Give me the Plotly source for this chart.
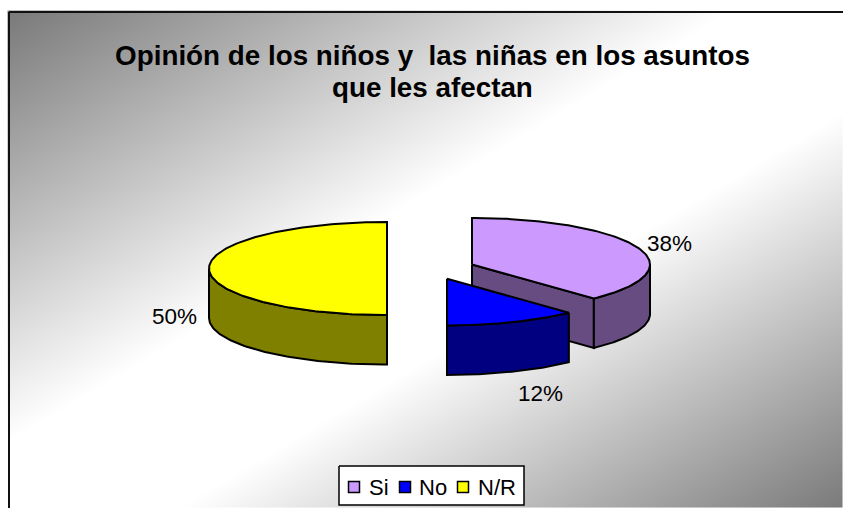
import numpy as np
import plotly.graph_objects as go

categories = ["Si", "No", "N/R"]
shares = [38, 12, 50]
title_lines = ["Opinión de los niños y  las niñas en los asuntos", "que les afectan"]

top_colors = ["#CC99FF", "#0000FF", "#FFFF00"]
wall_colors = ["#664C80", "#000080", "#808000"]
# exploded slice centres in pixel space
centers = [(472, 264.5), (447, 278.8), (387, 268.5)]
RX, RY, DEPTH = 178, 46.6, 49.5
W, H = 843, 508
LEFT, TOP = 9, 12
FONT = "Liberation Sans, Arial, sans-serif"

def rim(c, a0, a1, n=80, dy=0):
    a = np.radians(np.linspace(a0, a1, n))
    return c[0] + RX * np.sin(a), c[1] - RY * np.cos(a) + dy

def poly(xs, ys, color, width=2, **kw):
    return go.Scatter(x=xs, y=ys, mode="lines", fill="toself", fillcolor=color,
                      line=dict(color="black", width=width), hoverinfo="skip",
                      showlegend=False, **kw)

fig = go.Figure()

# background gradient
gx = np.linspace(LEFT, W, 280)
gy = np.linspace(TOP, H, 170)
X, Y = np.meshgrid(gx, gy)
t = (X - LEFT) / (W - LEFT) + (Y - TOP) / (H - TOP)
d = np.where(t < 1.04, (1.04 - t) / 1.04, (t - 1.04) / 0.96)
z = np.minimum(255, 122 + (1 - d) * 160)
fig.add_trace(go.Heatmap(x=gx, y=gy, z=z, zmin=0, zmax=255, zsmooth="best", showscale=False,
                         colorscale=[[0, "rgb(0,0,0)"], [1, "rgb(255,255,255)"]],
                         hoverinfo="skip"))

# slices, angles come from the shares (clockwise from 12 o'clock)
start = 0
for i, share in enumerate(shares):
    end = start + share * 3.6
    c = centers[i]
    # inner radial wall facing the viewer (only for the first slice)
    if i == 0:
        ex, ey = rim(c, end, end, 1)
        fig.add_trace(poly([c[0], ex[0], ex[0], c[0], c[0]],
                           [c[1], ey[0], ey[0] + DEPTH, c[1] + DEPTH, c[1]], wall_colors[i]))
    # outer wall, the part of the rim on the front half
    w0, w1 = max(start, 90), min(end, 270)
    if w1 > w0:
        x1, y1 = rim(c, w0, w1)
        x2, y2 = rim(c, w1, w0, dy=DEPTH)
        fig.add_trace(poly(np.r_[x1, x2, x1[0]], np.r_[y1, y2, y1[0]], wall_colors[i]))
    # top face
    xr, yr = rim(c, start, end, 160)
    fig.add_trace(poly(np.r_[c[0], xr, c[0]], np.r_[c[1], yr, c[1]], top_colors[i]))
    start = end

# legend box, markers and labels
BOX = (339, 524, 466, 505)
fig.add_trace(poly([BOX[0], BOX[1], BOX[1], BOX[0], BOX[0]],
                   [BOX[2], BOX[2], BOX[3], BOX[3], BOX[2]], "white", width=1.5))
marker_x = [354, 405, 463]
text_x = [367, 417, 476]
LEG_Y = 487
for name, col, mx in zip(categories, top_colors, marker_x):
    fig.add_trace(go.Scatter(x=[mx], y=[LEG_Y], mode="markers", name=name, showlegend=False,
                             hoverinfo="skip",
                             marker=dict(symbol="square", size=11, color=col,
                                         line=dict(color="black", width=1.5))))

label_pos = [(669, 243), (540, 393), (174, 316)]
annotations = [dict(x=p[0], y=p[1], xref="x", yref="y", text=f"{s}%", showarrow=False,
                    font=dict(family=FONT, size=22.5, color="black"))
               for p, s in zip(label_pos, shares)]
annotations.append(dict(x=432.5, y=87, xref="x", yref="y", text=f"<b>{title_lines[1]}</b>",
                        showarrow=False, font=dict(family=FONT, size=27.8, color="black")))
annotations += [dict(x=tx, y=LEG_Y, xref="x", yref="y", text=name, showarrow=False, xanchor="left",
                     font=dict(family=FONT, size=22, color="black"))
                for tx, name in zip(text_x, categories)]

shapes = [
    dict(type="line", x0=LEFT, x1=LEFT, y0=TOP, y1=H, line=dict(color="#111111", width=2)),
    dict(type="line", x0=LEFT, x1=W, y0=TOP, y1=TOP, line=dict(color="#111111", width=2)),
]

fig.update_layout(
    width=W, height=H, margin=dict(l=0, r=0, t=0, b=0),
    paper_bgcolor="white", plot_bgcolor="white", showlegend=False,
    xaxis=dict(range=[0, W], visible=False, fixedrange=True),
    yaxis=dict(range=[H, 0], visible=False, fixedrange=True),
    title=dict(text=f"<b>{title_lines[0]}</b>", x=432.5 / W, xanchor="center",
               y=1 - 55 / H, yanchor="middle",
               font=dict(family=FONT, size=27.8, color="black")),
    annotations=annotations, shapes=shapes,
)

fig.write_html("out.html", config={"displayModeBar": False},
               post_script="document.body.style.margin='0';document.body.style.overflow='hidden';")
